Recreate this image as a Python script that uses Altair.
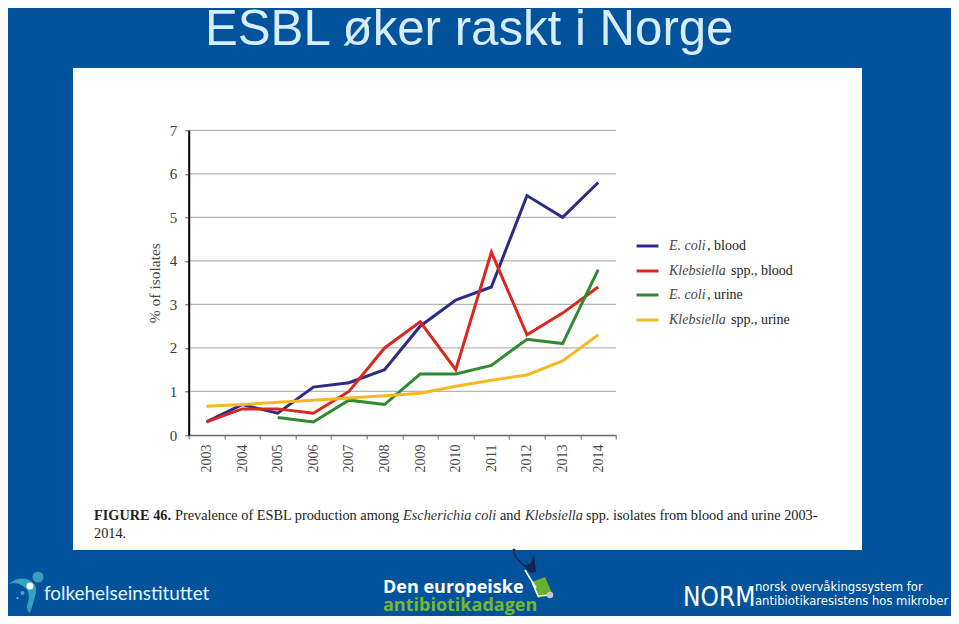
import altair as alt
import pandas as pd

# ---- chart values ----
years = [str(y) for y in range(2003, 2015)]
ecoli_blood = [0.3, 0.7, 0.5, 1.1, 1.2, 1.5, 2.5, 3.1, 3.4, 5.5, 5.0, 5.8]
kleb_blood = [0.3, 0.6, 0.6, 0.5, 1.0, 2.0, 2.6, 1.5, 4.2, 2.3, 2.8, 3.4]
ecoli_urine = [None, None, 0.4, 0.3, 0.8, 0.7, 1.4, 1.4, 1.6, 2.2, 2.1, 3.8]
kleb_urine = [0.66, 0.70, 0.75, 0.80, 0.85, 0.90, 0.96, 1.12, 1.26, 1.38, 1.70, 2.30]
series_names = ["E. coli, blood", "Klebsiella spp., blood", "E. coli, urine", "Klebsiella spp., urine"]
series_colors = ["#2e2a86", "#d8281f", "#2f8a30", "#f4b823"]
y_ticks = [0, 1, 2, 3, 4, 5, 6, 7]

BLUE = "#03539c"
SERIF = "Liberation Serif"
INK = "#3a3a3a"

rows = []
for name, vals in zip(series_names, [ecoli_blood, kleb_blood, ecoli_urine, kleb_urine]):
    for yr, v in zip(years, vals):
        if v is not None:
            rows.append({"year": yr, "value": v, "series": name})
df = pd.DataFrame(rows)

# ---- layout: page pixel -> chart pixel ----
W, H = 427.3, 304.7
LEFT, TOP = 180.7, 122.3
TOTAL_W, TOTAL_H = 943, 608
def px(x): return x - 8 - LEFT
def py(y): return y - 8 - TOP

ONE = alt.Data(values=[{"a": 1}])

def text(x, y, s, size=13, font=SERIF, color=INK, weight="normal", style="normal", align="left"):
    return alt.Chart(ONE).mark_text(
        font=font, fontSize=size, color=color, fontWeight=weight, fontStyle=style,
        align=align, baseline="alphabetic",
    ).encode(x=alt.value(px(x)), y=alt.value(py(y)), text=alt.value(s))

def box(x0, y0, x1, y1, color):
    return alt.Chart(ONE).mark_rect(color=color).encode(
        x=alt.value(px(x0)), x2=alt.value(px(x1)), y=alt.value(py(y0)), y2=alt.value(py(y1)))

def dot(x, y, r, color):
    return alt.Chart(ONE).mark_point(filled=True, shape="circle", color=color, opacity=1, size=(2 * r) ** 2).encode(
        x=alt.value(px(x)), y=alt.value(py(y)))

def shape(cx, cy, R, cmds, fill=None, stroke=None, sw=1.0):
    parts = []
    for c in cmds:
        pts = c[1:]
        out = []
        for i in range(0, len(pts), 2):
            out.append(f"{(pts[i] - cx) / R:.3f},{(pts[i + 1] - cy) / R:.3f}")
        parts.append(c[0] + " ".join(out))
    d = " ".join(parts)
    kw = {"shape": d, "size": (2 * R) ** 2, "opacity": 1}
    if fill:
        kw.update(filled=True, fill=fill, strokeWidth=0)
    else:
        kw.update(filled=False, stroke=stroke, strokeWidth=sw, fillOpacity=0)
    return alt.Chart(ONE).mark_point(**kw).encode(x=alt.value(px(cx)), y=alt.value(py(cy)))

# ---- slide furniture ----
layers = [box(73, 68, 862, 550, "white")]

grid = alt.Chart(pd.DataFrame({"v": y_ticks[1:]})).mark_rule(color="#b4b4b4", strokeWidth=1.2).encode(
    x=alt.value(0), x2=alt.value(W),
    y=alt.Y("v:Q", scale=alt.Scale(domain=[0, 7], nice=False)),
)
layers.append(grid)

lines = alt.Chart(df).mark_line(strokeWidth=3, strokeJoin="miter", strokeCap="butt").encode(
    x=alt.X("year:N", sort=years,
            scale=alt.Scale(type="band", paddingInner=0, paddingOuter=0),
            axis=alt.Axis(title=None, labelAngle=270, labelFont=SERIF, labelFontSize=14, labelColor="#4a4a4a",
                          labelPadding=5, labelAlign="right", labelBaseline="middle",
                          tickBand="extent", tickSize=4, tickColor="#666666", domainColor="#666666",
                          domainWidth=1.6, tickWidth=1, grid=False, zindex=1)),
    y=alt.Y("value:Q", scale=alt.Scale(domain=[0, 7], nice=False),
            axis=alt.Axis(values=y_ticks, format="d", title="% of isolates", titleFont=SERIF, titleFontSize=15.5,
                          titleFontWeight="normal", titleColor="#4a4a4a", titlePadding=7,
                          labelFont=SERIF, labelFontSize=15, labelColor="#3a3a3a", labelPadding=8,
                          tickSize=4, tickColor="#555555", domainColor="#000000", domainWidth=2,
                          grid=False, zindex=1)),
    color=alt.Color("series:N", sort=series_names,
                    scale=alt.Scale(domain=series_names, range=series_colors), legend=None),
    order=alt.Order("year:N"),
)
layers.append(lines)

# hand-set legend, because entries mix italic and roman
legend_y = [246, 271, 295, 320]
legend_italic = ["E. coli", "Klebsiella", "E. coli", "Klebsiella"]
legend_roman = [", blood", "spp., blood", ", urine", "spp., urine"]
legend_roman_x = [707, 731, 707, 731]
for yy, col, it, ro, rx in zip(legend_y, series_colors, legend_italic, legend_roman, legend_roman_x):
    layers.append(alt.Chart(ONE).mark_rule(color=col, strokeWidth=3).encode(
        x=alt.value(px(636.5)), x2=alt.value(px(658.5)), y=alt.value(py(yy))))
    layers.append(text(669, yy + 4, it, size=14, style="italic", color="#444444"))
    layers.append(text(rx, yy + 4, ro, size=14, color="#222222"))

# caption
CAP = 14.3
layers += [
    text(94, 520, "FIGURE 46.", size=CAP, weight="bold", color="#222222"),
    text(175, 520, "Prevalence of ESBL production among", size=CAP, color="#222222"),
    text(403, 520, "Escherichia coli", size=CAP, style="italic", color="#333333"),
    text(500, 520, "and", size=CAP, color="#222222"),
    text(525, 520, "Klebsiella", size=CAP, style="italic", color="#333333"),
    text(586, 520, "spp. isolates from blood and urine 2003-", size=CAP, color="#222222"),
    text(94, 538, "2014.", size=CAP, color="#222222"),
]

# slide title
layers.append(text(205, 45, "ESBL øker raskt i Norge", size=49.2, font="Liberation Sans", color="#d6eefa"))

# folkehelseinstituttet logo
layers += [
    shape(22, 593, 20, [("M", 9, 584), ("Q", 17, 577, 27, 579), ("Q", 38, 584, 36, 592),
                         ("Q", 34, 602, 30, 613), ("Q", 27, 612, 27, 606), ("Q", 32, 592, 23, 586),
                         ("Q", 16, 581, 9, 584), ("Z",)], fill="#35a3bd"),
    dot(38, 577, 5.5, "#3d9fbd"),
    dot(30, 586, 3.5, "#ffffff"),
    dot(22.5, 593, 2, "#4d9fd0"),
    dot(17.5, 598, 1, "#7fc4e0"),
    text(44, 600, "folkehelseinstituttet", size=18.9, font="Lato", color="#e6f3fb"),
]

# Den europeiske antibiotikadagen logo
layers += [
    text(383, 593, "Den europeiske", size=18, font="Open Sans", weight="bold", color="#ffffff"),
    text(383, 611, "antibiotikadagen", size=18, font="Open Sans", weight="bold", color="#76b82a"),
    shape(541, 587, 14, [("M", 532, 582), ("L", 545, 577), ("L", 552, 593), ("L", 538, 598), ("Z",)], fill="#6cb033"),
    shape(541, 587, 14, [("M", 532, 582), ("L", 538, 596), ("L", 552, 595)], stroke="#ffffff", sw=1.5),
    shape(528, 578, 14, [("M", 525, 570), ("L", 536, 588)], stroke="#ffffff", sw=1.6),
    shape(525, 562, 16, [("M", 514, 552), ("Q", 516, 560, 525, 566), ("L", 532, 570)], stroke="#10264f", sw=1.4),
    shape(530, 562, 14, [("M", 524, 566), ("L", 531, 563), ("L", 534, 553), ("L", 536, 572), ("L", 530, 573), ("Z",)], fill="#10264f"),
    dot(514, 550, 1.5, "#10264f"),
    dot(550, 595, 3.2, "#c4c9cc"),
]

# NORM logo
NARROW = "DejaVu Sans Condensed"
layers += [
    text(683, 606, "NORM", size=26, font=NARROW, color="#ffffff"),
    text(755, 591, "norsk overvåkingssystem for", size=12.9, font=NARROW, color="#ffffff"),
    text(755, 605, "antibiotikaresistens hos mikrober", size=12.9, font=NARROW, color="#ffffff"),
]

chart = alt.layer(*layers).properties(
    width=W, height=H,
    background=BLUE,
    autosize=alt.AutoSizeParams(type="none"),
    padding={"left": LEFT, "top": TOP, "right": TOTAL_W - LEFT - W, "bottom": TOTAL_H - TOP - H},
).configure_view(stroke=None)

chart.save("out.html", embed_options={"renderer": "svg", "actions": False})
